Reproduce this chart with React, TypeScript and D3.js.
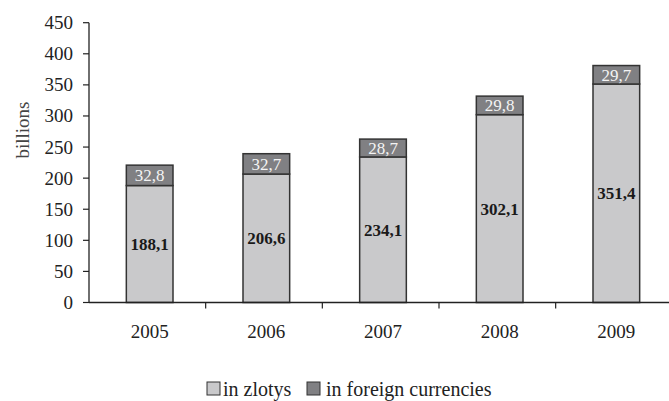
import React from "react";
import * as d3 from "d3";

// data
const years = ["2005", "2006", "2007", "2008", "2009"];
const inZlotys = [188.1, 206.6, 234.1, 302.1, 351.4];
const inForeign = [32.8, 32.7, 28.7, 29.8, 29.7];
const yTicks = [0, 50, 100, 150, 200, 250, 300, 350, 400, 450];
const seriesNames = ["in zlotys", "in foreign currencies"];

const W = 669;
const H = 401;
const margin = { left: 89, top: 22.7, bottom: 98.5 };
const colors = ["#c9c9cb", "#808083"];
const fontFamily = "'Liberation Serif', 'Times New Roman', serif";

const fmt = (v: number) => v.toFixed(1).replace(".", ",");

export default function App() {
  const x = d3
    .scaleBand()
    .domain(years)
    .range([margin.left, margin.left + 5 * 117.6])
    .paddingInner(0.6)
    .paddingOuter(0.32);

  const y = d3
    .scaleLinear()
    .domain([0, 450])
    .range([H - margin.bottom, margin.top]);

  const rows = years.map((yr, i) => ({ year: yr, zl: inZlotys[i], fx: inForeign[i] }));
  const stack = d3.stack<any>().keys(["zl", "fx"])(rows);

  const step = x.step();
  const x0 = margin.left;
  const yBase = y(0);

  return (
    <svg
      width={W}
      height={H}
      style={{ position: "absolute", left: 0, top: 0, background: "#fff" }}
      fontFamily={fontFamily}
    >
      {/* y axis */}
      <line x1={x0} x2={x0} y1={y(450)} y2={yBase} stroke="#222" strokeWidth={1.3} />
      {yTicks.map((t) => (
        <g key={t}>
          <line x1={x0 - 6} x2={x0} y1={y(t)} y2={y(t)} stroke="#222" strokeWidth={1.2} />
          <text x={73} y={y(t)} dy="0.34em" textAnchor="end" fontSize={19} fill="#222">
            {t}
          </text>
        </g>
      ))}
      <text
        transform={`translate(23,130) rotate(-90)`}
        textAnchor="middle"
        dy="0.33em"
        fontSize={19}
        fill="#444"
      >
        billions
      </text>

      {/* bars */}
      {stack.map((layer, si) =>
        layer.map((d, i) => (
          <rect
            key={`${si}-${i}`}
            x={x(years[i])!}
            width={x.bandwidth()}
            y={y(d[1])}
            height={y(d[0]) - y(d[1])}
            fill={colors[si]}
            stroke="#333"
            strokeWidth={1.5}
          />
        ))
      )}

      {/* data labels */}
      {stack[0].map((d, i) => (
        <text
          key={`l0-${i}`}
          x={x(years[i])! + x.bandwidth() / 2}
          y={(y(d[0]) + y(d[1])) / 2}
          dy="0.35em"
          textAnchor="middle"
          fontSize={17}
          fontWeight="bold"
          fill="#1a1a1a"
        >
          {fmt(inZlotys[i])}
        </text>
      ))}
      {stack[1].map((d, i) => (
        <text
          key={`l1-${i}`}
          x={x(years[i])! + x.bandwidth() / 2}
          y={(y(d[0]) + y(d[1])) / 2}
          dy="0.35em"
          textAnchor="middle"
          fontSize={17}
          fill="#f4f4f4"
        >
          {fmt(inForeign[i])}
        </text>
      ))}

      {/* x axis */}
      <line x1={x0} x2={W} y1={yBase} y2={yBase} stroke="#222" strokeWidth={1.3} />
      {years.map((yr, i) => (
        <g key={yr}>
          {i > 0 && (
            <line
              x1={x0 + step * i}
              x2={x0 + step * i}
              y1={yBase}
              y2={yBase + 6}
              stroke="#222"
              strokeWidth={1.2}
            />
          )}
          <text
            x={x(yr)! + x.bandwidth() / 2}
            y={331.5}
            dy="0.35em"
            textAnchor="middle"
            fontSize={19}
            fill="#222"
          >
            {yr}
          </text>
        </g>
      ))}

      {/* legend */}
      {seriesNames.map((name, i) => {
        const lx = i === 0 ? 207 : 307;
        const tx = i === 0 ? 223 : 326;
        return (
          <g key={name}>
            <rect x={lx} y={382} width={13} height={13} fill={colors[i]} stroke="#333" strokeWidth={1} />
            <text x={tx} y={388.5} dy="0.35em" fontSize={20} fill="#222">
              {name}
            </text>
          </g>
        );
      })}
    </svg>
  );
}
